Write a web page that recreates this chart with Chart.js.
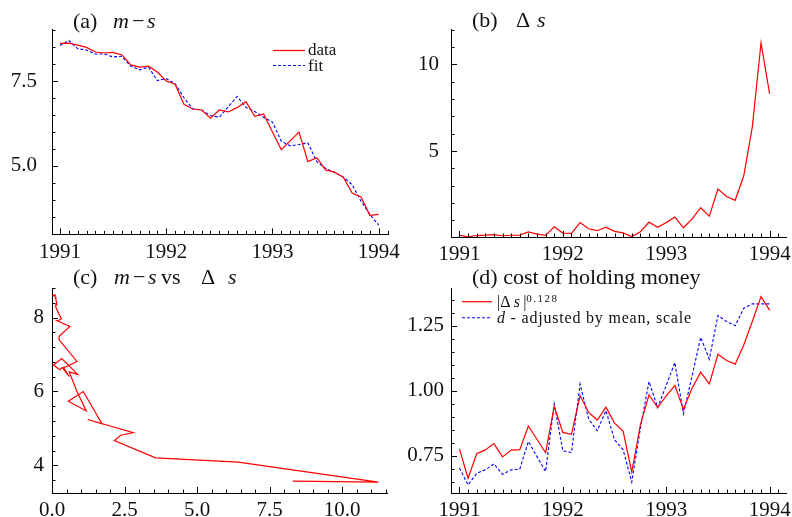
<!DOCTYPE html>
<html>
<head>
<meta charset="utf-8">
<script src="https://cdn.jsdelivr.net/npm/chart.js@4.4.1/dist/chart.umd.min.js"></script>
<style>
  body { margin: 0; background: #fff; }
  #page { position: relative; width: 792px; height: 517px; overflow: hidden;
          font-family: "Liberation Serif", serif; color: #111; }
  canvas { position: absolute; }
  .lbl { position: absolute; white-space: nowrap; line-height: 24px; font-size: 22px; }
  .leg { position: absolute; white-space: nowrap; line-height: 18px; }
  svg.key { position: absolute; overflow: visible; }
</style>
</head>
<body>
<div id="page">
  <canvas id="chartA" width="400" height="262" style="left:0;top:0"></canvas>
  <canvas id="chartB" width="396" height="262" style="left:396px;top:0"></canvas>
  <canvas id="chartC" width="400" height="255" style="left:0;top:262px"></canvas>
  <canvas id="chartD" width="396" height="255" style="left:396px;top:262px"></canvas>

  <!-- titres des panneaux -->
  <div class="lbl" style="left:73px;top:9px">(a)</div>
  <div class="lbl" style="left:113px;top:9px"><i>m</i></div>
  <div class="lbl" style="left:132px;top:9px">−</div>
  <div class="lbl" style="left:147px;top:9px"><i>s</i></div>
  <div class="lbl" style="left:472px;top:8px">(b)</div>
  <div class="lbl" style="left:516px;top:8px">Δ</div>
  <div class="lbl" style="left:537px;top:8px"><i>s</i></div>
  <div class="lbl" style="left:73px;top:265px">(c)</div>
  <div class="lbl" style="left:114px;top:265px"><i>m</i></div>
  <div class="lbl" style="left:133px;top:265px">−</div>
  <div class="lbl" style="left:148px;top:265px"><i>s</i></div>
  <div class="lbl" style="left:161px;top:265px">vs</div>
  <div class="lbl" style="left:201px;top:265px">Δ</div>
  <div class="lbl" style="left:228px;top:265px"><i>s</i></div>
  <div class="lbl" style="left:472px;top:265px">(d) cost of holding money</div>

  <!-- légende (a) -->
  <svg class="key" style="left:273px;top:44px" width="32" height="30">
    <line x1="0" y1="6.5" x2="32" y2="6.5" stroke="#ff0000" stroke-width="1.2"/>
    <line x1="0" y1="21.5" x2="32" y2="21.5" stroke="#0000ff" stroke-width="1.1" stroke-dasharray="3,2"/>
  </svg>
  <div class="leg" style="left:308px;top:41px;font-size:17px">data</div>
  <div class="leg" style="left:308px;top:57px;font-size:17px">fit</div>

  <!-- légende (d) -->
  <svg class="key" style="left:462px;top:296px" width="30" height="30">
    <line x1="0" y1="5.7" x2="30" y2="5.7" stroke="#ff0000" stroke-width="1.2"/>
    <line x1="0" y1="21.7" x2="30" y2="21.7" stroke="#0000ff" stroke-width="1.1" stroke-dasharray="3,2"/>
  </svg>
  <div class="leg" style="left:497px;top:293px;font-size:16px">|Δ&thinsp;<i>s</i>&thinsp;|<span style="font-size:11px;letter-spacing:1.5px;position:relative;top:-5px">0.128</span></div>
  <div class="leg" style="left:497px;top:309px;font-size:16px;letter-spacing:0.8px"><i>d</i> - adjusted by mean, scale</div>
</div>

<script>
// Mois depuis janvier 1991 (0 = 1991, 36 = 1994)
const months = Array.from({ length: 37 }, (_, i) => i);

// (a) m - s : données et ajustement
const mMinusS = [8.605, 8.614, 8.556, 8.488, 8.353, 8.324, 8.343, 8.266, 7.975, 7.907, 7.936, 7.762,
  7.500, 7.403, 6.812, 6.676, 6.647, 6.405, 6.647, 6.589, 6.715, 6.890, 6.463, 6.531,
  5.998, 5.475, 5.736, 5.998, 5.126, 5.242, 4.884, 4.816, 4.671, 4.205, 4.089, 3.547, 3.576];
const fit = [8.547, 8.692, 8.450, 8.411, 8.295, 8.295, 8.207, 8.227, 7.936, 7.829, 7.907, 7.510,
  7.568, 7.422, 7.006, 6.676, 6.647, 6.483, 6.434, 6.734, 7.045, 6.725, 6.599, 6.434,
  6.289, 5.727, 5.591, 5.630, 5.678, 5.126, 4.932, 4.806, 4.671, 4.448, 3.963, 3.576, 3.256];

// (b) Δs
const deltaS = [0.139, 0.041, 0.115, 0.134, 0.170, 0.101, 0.132, 0.135, 0.322, 0.200, 0.120, 0.617,
  0.256, 0.240, 0.861, 0.508, 0.395, 0.601, 0.355, 0.266, 0.053, 0.334, 0.889, 0.596,
  0.861, 1.180, 0.563, 1.080, 1.720, 1.230, 2.800, 2.370, 2.150, 3.570, 6.420, 11.25, 8.300];

// (d) |Δs|^0.128 et d ajusté
const powDeltaS = [0.777, 0.664, 0.758, 0.773, 0.797, 0.746, 0.772, 0.774, 0.865, 0.814, 0.762, 0.940,
  0.840, 0.833, 0.981, 0.917, 0.888, 0.937, 0.876, 0.844, 0.687, 0.869, 0.985, 0.936,
  0.981, 1.021, 0.929, 1.010, 1.072, 1.027, 1.141, 1.117, 1.103, 1.177, 1.268, 1.363, 1.311];
const dAdjusted = [0.703, 0.638, 0.683, 0.696, 0.719, 0.679, 0.696, 0.699, 0.805, 0.747, 0.690, 0.950,
  0.769, 0.763, 1.026, 0.891, 0.847, 0.924, 0.812, 0.773, 0.649, 0.856, 1.036, 0.936,
  1.021, 1.109, 0.912, 1.058, 1.206, 1.122, 1.290, 1.267, 1.251, 1.318, 1.335, 1.335, 1.335];

const RED = '#ff0000';
const BLUE = '#0000ff';

function onStep(v, k) {
  return Math.abs(v / k - Math.round(v / k)) < 1e-6;
}

// Petits traits de graduation tournés vers l'intérieur
const innerTicks = {
  id: 'innerTicks',
  afterDraw(chart) {
    const ctx = chart.ctx;
    ctx.save();
    ctx.strokeStyle = '#000';
    ctx.lineWidth = 1;
    Object.values(chart.scales).forEach(scale => {
      const step = scale.options.ticks.stepSize;
      scale.ticks.forEach(t => {
        if (!onStep(t.value, step)) return;
        if (t.value < scale.min - 1e-9 || t.value > scale.max + 1e-9) return;
        const len = t.label !== '' ? 6 : 3.5;
        const p = Math.round(scale.getPixelForValue(t.value)) + 0.5;
        ctx.beginPath();
        if (scale.isHorizontal()) {
          ctx.moveTo(p, scale.top);
          ctx.lineTo(p, scale.top - len);
        } else {
          ctx.moveTo(scale.right, p);
          ctx.lineTo(scale.right + len, p);
        }
        ctx.stroke();
      });
    });
    ctx.restore();
  }
};

function axis(min, max, step, labelEvery, fmt, size, padding) {
  return {
    type: 'linear', min, max,
    ticks: {
      stepSize: step, autoSkip: false, maxRotation: 0, padding, includeBounds: false,
      font: { family: 'Liberation Serif', size: 21 }, color: '#111',
      callback: v => (onStep(v, labelEvery) ? fmt(v) : '')
    },
    grid: { display: true, drawOnChartArea: false, drawTicks: false },
    border: { display: true, color: '#000', width: 1 },
    afterFit: s => { if (s.isHorizontal()) s.height = size; else s.width = size; }
  };
}

function monthAxis(min, max, size) {
  return axis(min, max, 1, 12, v => String(1991 + v / 12), size, 5);
}

function line(values, color, dashed) {
  return {
    data: months.map((m, i) => ({ x: m, y: values[i] })),
    borderColor: color, borderWidth: dashed ? 1.1 : 1.2,
    borderDash: dashed ? [3, 2] : [],
    pointRadius: 0, tension: 0, fill: false
  };
}

function makeChart(id, datasets, xAxis, yAxis, pad) {
  return new Chart(document.getElementById(id), {
    type: 'line',
    data: { datasets },
    options: {
      responsive: false, animation: false, events: [],
      layout: { padding: pad },
      scales: { x: xAxis, y: yAxis },
      plugins: { legend: { display: false }, tooltip: { enabled: false } }
    },
    plugins: [innerTicks]
  });
}

// (a)
makeChart('chartA',
  [line(mMinusS, RED, false), line(fit, BLUE, true)],
  monthAxis(-0.9, 37.05, 25),
  axis(2.985, 9.03, 0.5, 2.5, v => v.toFixed(1), 52, 15),
  { top: 29, right: 12, left: 0, bottom: 0 });

// (b)
makeChart('chartB',
  [line(deltaS, RED, false)],
  monthAxis(-0.98, 37.9, 25),
  axis(0.03, 12.05, 1, 5, v => String(v), 55, 12),
  { top: 29, right: 6, left: 0, bottom: 0 });

// (c) m - s en fonction de Δs
makeChart('chartC',
  [{
    data: deltaS.map((d, i) => ({ x: d, y: mMinusS[i] })),
    borderColor: RED, borderWidth: 1.2, pointRadius: 0, tension: 0, fill: false
  }],
  axis(0, 11.55, 0.5, 2.5, v => v.toFixed(1), 24, 5),
  axis(3.254, 8.8, 0.4, 2, v => String(Math.round(v)), 52, 8),
  { top: 26, right: 13, left: 0, bottom: 0 });

// (d)
makeChart('chartD',
  [line(powDeltaS, RED, false), line(dAdjusted, BLUE, true)],
  monthAxis(-0.98, 37.9, 24),
  axis(0.607, 1.396, 0.05, 0.25, v => v.toFixed(2), 55, 7),
  { top: 26, right: 6, left: 0, bottom: 0 });
</script>
</body>
</html>
